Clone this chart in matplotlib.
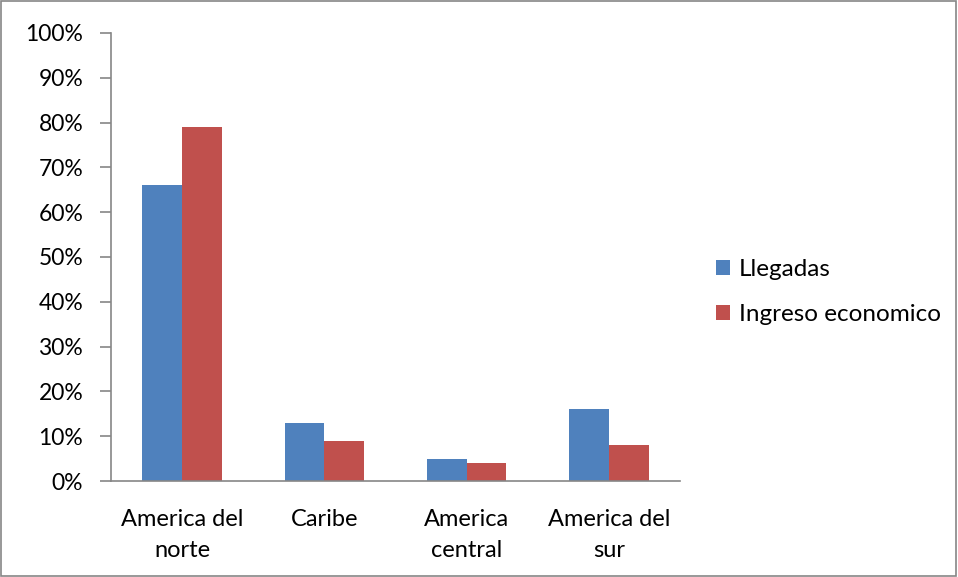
import numpy as np
import matplotlib.pyplot as plt
from matplotlib.patches import Rectangle

categories = ["America del\nnorte", "Caribe", "America\ncentral", "America del\nsur"]
llegadas = [66, 13, 5, 16]
ingreso = [79, 9, 4, 8]
series_names = ["Llegadas", "Ingreso economico"]

plt.rcParams['font.family'] = ['Lato', 'DejaVu Sans']

fig = plt.figure(figsize=(9.58, 5.77), dpi=100)
ax = fig.add_axes([111/958, 1 - 481/577, (680-111)/958, (481-33)/577])

x = np.arange(len(categories))
w = 0.28
ax.bar(x - w/2, llegadas, w, color='#4F81BD', label=series_names[0])
ax.bar(x + w/2, ingreso, w, color='#C0504D', label=series_names[1])

ax.set_xlim(-0.5, len(categories) - 0.5)
ax.set_ylim(0, 100)
ax.set_yticks(range(0, 101, 10))
ax.set_yticklabels([f"{v}%" for v in range(0, 101, 10)], fontsize=16.5)
ax.set_xticks(x)
ax.set_xticklabels(categories, fontsize=17, linespacing=1.6)

for s in ['top', 'right']:
    ax.spines[s].set_visible(False)
for s in ['left', 'bottom']:
    ax.spines[s].set_color('#868686')
    ax.spines[s].set_linewidth(1.2)
ax.tick_params(axis='y', length=8, color='#868686', width=1.2, pad=12)
ax.tick_params(axis='x', length=0, pad=20)

fig.legend(loc='center left', bbox_to_anchor=(694/958, 1 - 292/577), frameon=False,
           fontsize=17.5, handlelength=0.6, handleheight=0.6, handletextpad=0.35,
           labelspacing=1.0)

fig.patches.append(Rectangle((0.001, 0.002), 0.997, 0.996, transform=fig.transFigure,
                             fill=False, edgecolor='#868686', linewidth=1.2))

fig.savefig("out.png", dpi=100)
